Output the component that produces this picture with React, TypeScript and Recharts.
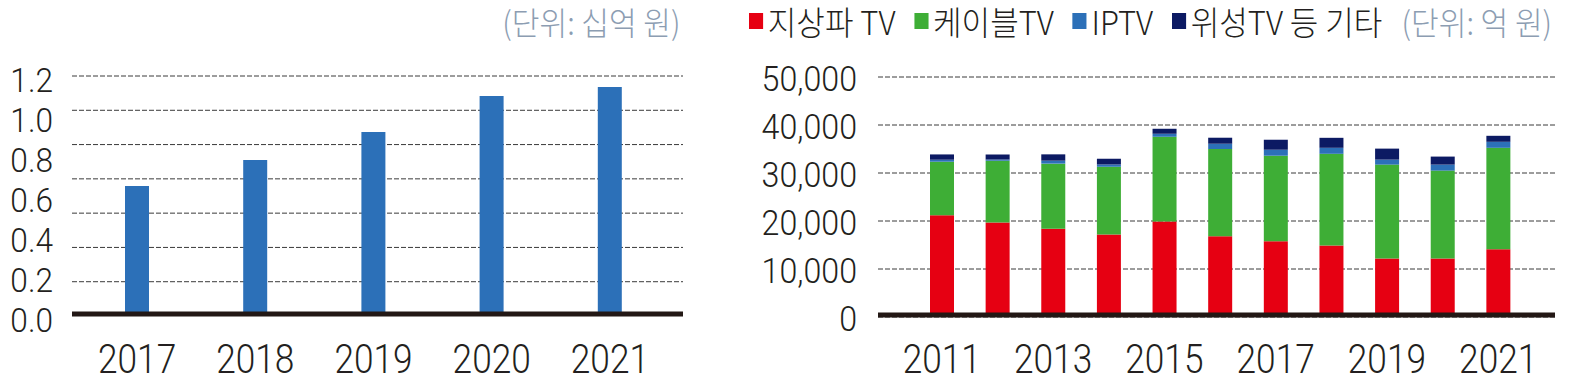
import React from 'react';
import { BarChart, Bar, XAxis, YAxis, CartesianGrid } from 'recharts';

// ---------- Left chart data (단위: 십억 원) ----------
const LEFT_YEARS = ['2017', '2018', '2019', '2020', '2021'];
const LEFT_VALUES = [0.65, 0.78, 0.92, 1.1, 1.145];
const LEFT_Y_TICKS = [0, 0.2, 0.4, 0.6, 0.8, 1.0, 1.2];
// the left panel's dashed guide lines: 7 equal steps from the axis to the top, 6 lines drawn
const LEFT_GRID_STEPS = 7;
const LEFT_GRID_LINES = [1, 2, 3, 4, 5, 6, 7];

// ---------- Right chart data (단위: 억 원) ----------
const RIGHT_YEARS = ['2011', '2012', '2013', '2014', '2015', '2016', '2017', '2018', '2019', '2020', '2021'];
const TERRESTRIAL = [21200, 19700, 18400, 17200, 19900, 16800, 15800, 14900, 12200, 12200, 14100];
const CABLE = [11150, 12850, 13550, 14100, 17650, 18200, 17800, 19100, 19550, 18300, 21150];
const IPTV = [420, 280, 625, 480, 625, 1100, 1250, 1250, 1040, 1250, 1250];
const SATELLITE_ETC = [1100, 1040, 1310, 1190, 1040, 1250, 2080, 2080, 2290, 1670, 1250];
const RIGHT_Y_TICKS = [0, 10000, 20000, 30000, 40000, 50000];
const RIGHT_X_TICKS = ['2011', '2013', '2015', '2017', '2019', '2021'];

const SERIES = [
  { key: 'terrestrial', name: '지상파 TV', color: '#e60012', values: TERRESTRIAL },
  { key: 'cable', name: '케이블TV', color: '#3eae36', values: CABLE },
  { key: 'iptv', name: 'IPTV', color: '#2c70b8', values: IPTV },
  { key: 'other', name: '위성TV 등 기타', color: '#0c1a63', values: SATELLITE_ETC },
];

const LEFT_UNIT = '(단위: 십억 원)';
const RIGHT_UNIT = '(단위: 억 원)';

const leftData = LEFT_YEARS.map((y, i) => ({ year: y, value: LEFT_VALUES[i] }));
const rightData = RIGHT_YEARS.map((y, i) => {
  const row: any = { year: y };
  SERIES.forEach((s) => (row[s.key] = s.values[i]));
  return row;
});

const TEXT = '#231f20';
const GRAY = '#8c9db2';
const NUM_FONT = 'Roboto, "Noto Sans", sans-serif';
const KR_FONT = '"Noto Sans CJK KR", "Noto Sans", sans-serif';

const ScaledTick = (props: any) => {
  const { x, y, payload, anchor, size, sx, dy, fmt } = props;
  const label = fmt ? fmt(payload.value) : payload.value;
  return (
    <g transform={`translate(${x},${y})`}>
      <text
        transform={`scale(${sx},1)`}
        x={0}
        y={0}
        dy={dy}
        textAnchor={anchor}
        fontSize={size}
        fontFamily={NUM_FONT}
        fontWeight={300}
        fill={TEXT}
      >
        {label}
      </text>
    </g>
  );
};

const axisLineStyle = { stroke: '#231815', strokeWidth: 5, transform: 'translate(0,-2)' };

const unitStyle = (right: number): React.CSSProperties => ({
  position: 'absolute',
  right,
  top: 6,
  fontFamily: KR_FONT,
  fontWeight: 300,
  fontSize: 32,
  lineHeight: '30px',
  color: GRAY,
  whiteSpace: 'nowrap',
  transform: 'scaleX(0.94)',
  transformOrigin: 'right center',
});

export default function App() {
  return (
    <div style={{ position: 'absolute', left: 0, top: 0, width: 1571, height: 381, background: '#fff' }}>
      <div style={unitStyle(1571 - 681)}>{LEFT_UNIT}</div>

      {/* Right legend */}
      <div
        style={{
          position: 'absolute',
          left: 749,
          top: 6,
          display: 'flex',
          alignItems: 'center',
          fontFamily: KR_FONT,
          fontWeight: 300,
          fontSize: 33,
          lineHeight: '30px',
          color: TEXT,
          whiteSpace: 'nowrap',
          transform: 'scaleX(0.94)',
          transformOrigin: 'left center',
        }}
      >
        {SERIES.map((s) => (
          <span key={s.key} style={{ display: 'flex', alignItems: 'center', marginRight: 20 }}>
            <span style={{ display: 'inline-block', width: 15, height: 16, background: s.color, marginRight: 5 }} />
            {s.name}
          </span>
        ))}
      </div>

      <div style={unitStyle(1571 - 1552)}>{RIGHT_UNIT}</div>

      {/* Left chart */}
      <div style={{ position: 'absolute', left: 0, top: 0 }}>
        <BarChart
          width={700}
          height={381}
          data={leftData}
          margin={{ top: 76, right: 17, bottom: 0, left: 0 }}
        >
          <CartesianGrid
            vertical={false}
            stroke="#3a3a3a"
            strokeDasharray="5 2"
            horizontalCoordinatesGenerator={({ offset }: any) =>
              LEFT_GRID_LINES.map((k) => offset.top + offset.height - (offset.height * k) / LEFT_GRID_STEPS)
            }
          />
          <YAxis
            width={72}
            domain={[0, 1.2]}
            ticks={LEFT_Y_TICKS}
            axisLine={false}
            tickLine={false}
            tickSize={0}
            tickMargin={19}
            tick={(p: any) => (
              <ScaledTick {...p} anchor="end" size={34} sx={0.93} dy={16} fmt={(v: number) => v.toFixed(1)} />
            )}
          />
          <XAxis
            dataKey="year"
            height={65}
            padding={{ left: 6, right: 14 }}
            axisLine={axisLineStyle}
            tickLine={false}
            tickSize={0}
            tickMargin={57}
            interval={0}
            tick={(p: any) => <ScaledTick {...p} anchor="middle" size={41} sx={0.86} dy={0} />}
          />
          <Bar dataKey="value" fill="#2c70b8" barSize={24} isAnimationActive={false} />
        </BarChart>
      </div>

      {/* Right chart */}
      <div style={{ position: 'absolute', left: 740, top: 0 }}>
        <BarChart
          width={831}
          height={381}
          data={rightData}
          margin={{ top: 77, right: 16, bottom: 0, left: 0 }}
        >
          <CartesianGrid vertical={false} stroke="#3a3a3a" strokeDasharray="5 2" />
          <YAxis
            width={138}
            domain={[0, 50000]}
            ticks={RIGHT_Y_TICKS}
            axisLine={false}
            tickLine={false}
            tickSize={0}
            tickMargin={21}
            tick={(p: any) => (
              <ScaledTick
                {...p}
                anchor="end"
                size={35}
                sx={0.92}
                dy={13.5}
                fmt={(v: number) => v.toLocaleString('en-US')}
              />
            )}
          />
          <XAxis
            dataKey="year"
            height={64}
            padding={{ left: 36, right: 29 }}
            ticks={RIGHT_X_TICKS}
            interval={0}
            axisLine={axisLineStyle}
            tickLine={false}
            tickSize={0}
            tickMargin={56}
            tick={(p: any) => <ScaledTick {...p} anchor="middle" size={41} sx={0.86} dy={0} />}
          />
          {SERIES.map((s) => (
            <Bar
              key={s.key}
              dataKey={s.key}
              name={s.name}
              stackId="tv"
              fill={s.color}
              barSize={24}
              isAnimationActive={false}
            />
          ))}
        </BarChart>
      </div>
    </div>
  );
}
